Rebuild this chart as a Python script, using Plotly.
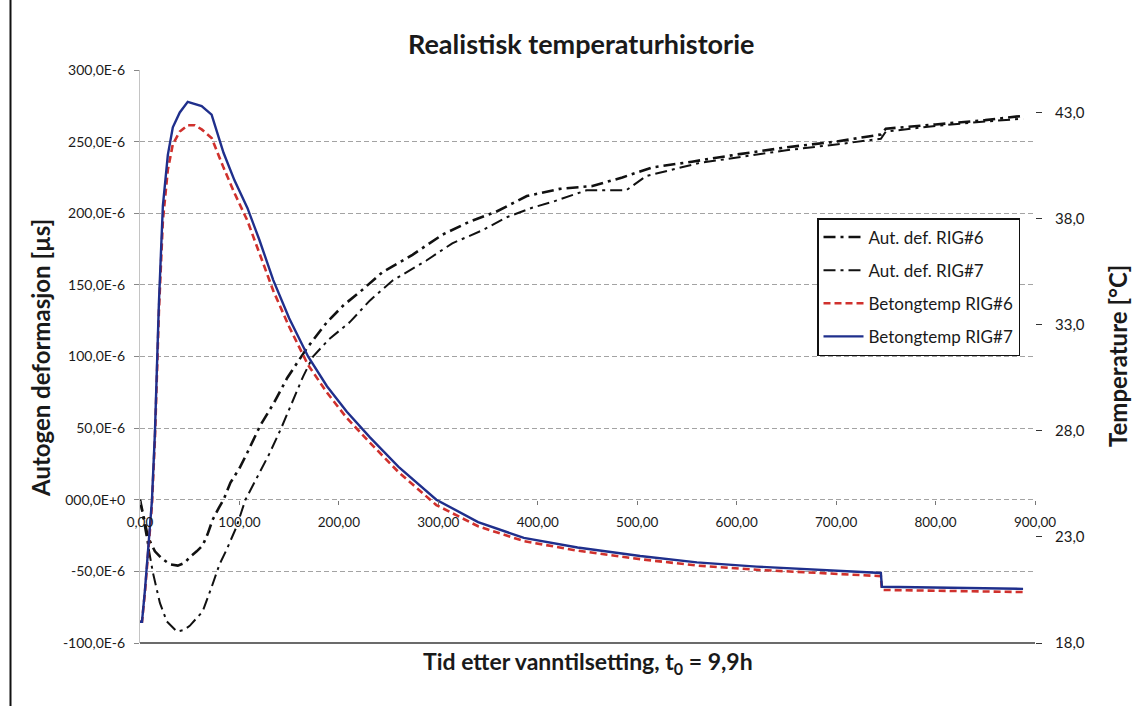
import plotly.graph_objects as go

# ---------------- data ----------------
# Autogenous deformation (µs = 1e-6), RIG#6
t_def6 = [0, 3, 8, 15, 22, 30, 38, 45, 50, 57, 63, 68, 73, 79, 84, 91, 100, 108, 114, 121,
          135, 148, 168, 188, 205, 221, 244, 274, 304, 331, 358, 389, 422, 455, 485, 515,
          555, 600, 650, 700, 745, 750, 800, 850, 888]
def6 = [0, -10, -26, -36, -41, -45, -46, -44, -40, -36, -32, -24, -14, -6, 0, 12, 22, 33, 42, 52,
        68, 85, 106, 124, 136, 145, 159, 171, 185, 194, 201, 212, 217, 219, 225, 232,
        236, 241, 246, 250, 255, 259, 262, 265, 268]

# Autogenous deformation (µs = 1e-6), RIG#7
t_def7 = [0, 5, 13, 20, 27, 37, 44, 50, 63, 72, 80, 87, 97, 106, 118, 130, 142, 154, 164, 174,
          190, 211, 231, 254, 288, 314, 344, 368, 395, 415, 449, 489, 509, 562, 600, 650,
          700, 745, 750, 800, 850, 888]
def7 = [0, -20, -51, -72, -85, -92, -91, -88, -78, -61, -45, -35, -19, 0, 16, 32, 50, 70, 86, 100,
        112, 124, 139, 153, 167, 179, 188, 197, 204, 208, 216, 216, 226, 235, 239, 244,
        248, 252, 257, 261, 264, 266]

# Concrete temperature (°C)
t_temp = [0, 2, 5, 8, 12, 15, 19, 23, 28, 33, 40, 48, 55, 62, 72, 84, 95, 108, 120, 134,
          150, 169, 188, 208, 231, 260, 298, 340, 386, 440, 503, 560, 620, 680, 745, 746,
          800, 888]
temp6 = [19.0, 19.0, 20.4, 22.2, 24.5, 27.6, 33.6, 37.9, 40.3, 41.5, 42.1, 42.4, 42.4, 42.2, 41.8,
         40.4, 39.2, 37.9, 36.4, 34.6, 32.9, 31.1, 29.8, 28.6, 27.45, 26.05, 24.5, 23.5, 22.8,
         22.35, 21.95, 21.65, 21.45, 21.3, 21.15, 20.5, 20.45, 20.4]
temp7 = [19.0, 19.0, 20.5, 22.4, 24.7, 27.9, 34.0, 38.6, 41.0, 42.3, 43.0, 43.5, 43.4, 43.3, 42.9,
         41.1, 39.8, 38.5, 37.0, 35.1, 33.3, 31.5, 30.1, 28.9, 27.7, 26.3, 24.75, 23.7, 22.95,
         22.5, 22.1, 21.8, 21.6, 21.45, 21.3, 20.65, 20.6, 20.55]

# Axis ticks
x_ticks = [0, 100, 200, 300, 400, 500, 600, 700, 800, 900]
x_ticktext = ["0,00", "100,00", "200,00", "300,00", "400,00", "500,00",
              "600,00", "700,00", "800,00", "900,00"]
y_ticks = [-100, -50, 0, 50, 100, 150, 200, 250, 300]
y_ticktext = ["-100,0E-6", "-50,0E-6", "000,0E+0", "50,0E-6", "100,0E-6",
              "150,0E-6", "200,0E-6", "250,0E-6", "300,0E-6"]
y2_ticks = [18, 23, 28, 33, 38, 43]
y2_ticktext = ["18,0", "23,0", "28,0", "33,0", "38,0", "43,0"]

FONT = "Lato"
TXT = "#1a1a1a"

fig = go.Figure()
fig.add_trace(go.Scatter(
    x=t_def6, y=[v * 1e-6 for v in def6], name="Aut. def. RIG#6", mode="lines",
    legendgroup="g1",
    line=dict(color="#111111", width=2.6, dash="12px,5px,3px,5px")))
fig.add_trace(go.Scatter(
    x=t_def7, y=[v * 1e-6 for v in def7], name="Aut. def. RIG#7", mode="lines",
    legendgroup="g2",
    line=dict(color="#111111", width=2.0, dash="12px,5px,3px,5px")))
fig.add_trace(go.Scatter(
    x=t_temp, y=temp6, name="Betongtemp RIG#6", mode="lines", yaxis="y2",
    legendgroup="g3",
    line=dict(color="#d0312d", width=2.6, dash="7px,4px")))
fig.add_trace(go.Scatter(
    x=t_temp, y=temp7, name="Betongtemp RIG#7", mode="lines", yaxis="y2",
    legendgroup="g4",
    line=dict(color="#1f2f8c", width=2.4)))

fig.update_layout(
    width=1144, height=706,
    margin=dict(l=140, r=109, t=70, b=63, pad=0),
    paper_bgcolor="white", plot_bgcolor="white",
    font=dict(family=FONT, color=TXT),
    showlegend=True,
    legend=dict(
        x=(817 - 140) / 895, y=(643 - 218) / 573, xanchor="left", yanchor="top",
        bgcolor="white", bordercolor="#111111", borderwidth=1.5,
        font=dict(family=FONT, size=17, color=TXT),
        traceorder="grouped", tracegroupgap=8, itemwidth=40,
    ),
    xaxis=dict(
        range=[0, 900], tickvals=x_ticks, ticktext=x_ticktext,
        anchor="free", position=0.25,
        showgrid=False, zeroline=False, showline=False,
        ticks="outside", ticklen=4, tickcolor="#777777",
        tickfont=dict(family=FONT, size=13.5, color=TXT), ticklabelstandoff=6,
    ),
    yaxis=dict(
        range=[-100e-6, 300e-6], tickvals=[v * 1e-6 for v in y_ticks], ticktext=y_ticktext,
        showgrid=True, gridcolor="#a3a3a3", gridwidth=1, griddash="5px,3px",
        zeroline=False, showline=True, linecolor="#c4c4c4", linewidth=1,
        ticks="outside", ticklen=5, tickcolor="#888888",
        tickfont=dict(family=FONT, size=14, color=TXT), ticklabelstandoff=6,
    ),
    yaxis2=dict(
        range=[18, 45], tickvals=y2_ticks, ticktext=y2_ticktext,
        overlaying="y", side="right",
        showgrid=False, zeroline=False, showline=False,
        ticks="outside", ticklen=6, tickcolor="#333333",
        tickfont=dict(family=FONT, size=15, color=TXT), ticklabelstandoff=10,
    ),
    shapes=[
        # darker bottom edge of the plot area
        dict(type="line", xref="paper", yref="paper", x0=0, x1=1, y0=0, y1=0,
             line=dict(color="#3a3a3a", width=1.5)),
        # page border on the left
        dict(type="line", xref="paper", yref="paper",
             x0=(10.5 - 140) / 895, x1=(10.5 - 140) / 895,
             y0=(643 - 706) / 573, y1=(643 - 0) / 573,
             line=dict(color="#111111", width=2)),
    ],
    annotations=[
        dict(text="<b>Realistisk temperaturhistorie</b>", xref="paper", yref="paper",
             x=(581 - 140) / 895, y=(643 - 44) / 573, xanchor="center", yanchor="middle",
             showarrow=False, font=dict(family=FONT, size=27, color=TXT)),
        dict(text="<b>Tid etter vanntilsetting, t<sub>0</sub> = 9,9h</b>", xref="paper", yref="paper",
             x=(588 - 140) / 895, y=(643 - 662) / 573, xanchor="center", yanchor="middle",
             showarrow=False, font=dict(family=FONT, size=23, color=TXT)),
        dict(text="<b>Autogen deformasjon [µs]</b>", xref="paper", yref="paper",
             x=(40 - 140) / 895, y=(643 - 358) / 573, xanchor="center", yanchor="middle",
             textangle=-90, showarrow=False, font=dict(family=FONT, size=24, color=TXT)),
        dict(text="<b>Temperature [°C]</b>", xref="paper", yref="paper",
             x=(1117 - 140) / 895, y=(643 - 356) / 573, xanchor="center", yanchor="middle",
             textangle=-90, showarrow=False, font=dict(family=FONT, size=24, color=TXT)),
    ],
)

fig.write_html("out.html")
